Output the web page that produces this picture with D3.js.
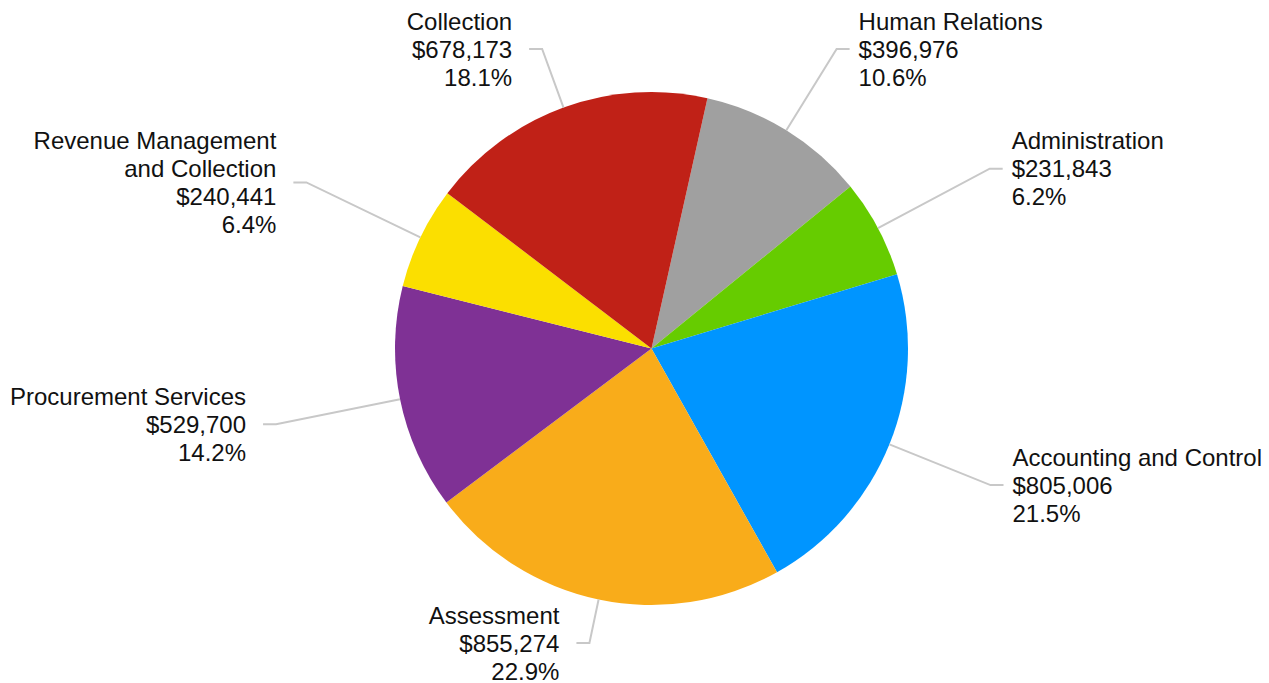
<!DOCTYPE html>
<html>
<head>
<meta charset="utf-8">
<script src="https://cdn.jsdelivr.net/npm/d3@7"></script>
<style>
  body { margin: 0; background: #fff; }
  text { font-family: "Liberation Sans", Arial, sans-serif; font-size: 24px; fill: #111; }
</style>
</head>
<body>
<div id="chart"></div>
<script>
// data, in clockwise order starting at Human Relations
var departments = ["Human Relations", "Administration", "Accounting and Control", "Assessment",
    "Procurement Services", "Revenue Management and Collection", "Collection"];
var budgets = [396976, 231843, 805006, 855274, 529700, 240441, 678173];
var sliceColors = ["#a0a0a0", "#66cc00", "#0095ff", "#f9ac1a", "#7f3195", "#fbdf00", "#c02117"];

var width = 1269, height = 683;
var cx = 651.5, cy = 348.5, radius = 256.5;
var labelRadius = 383;
var lineHeight = 28;
var maxLabelWidth = 270;
var edgeMargin = 7;

var svg = d3.select("#chart")
    .append("svg")
    .attr("width", width)
    .attr("height", height);

var total = d3.sum(budgets);
var startAngle = 12.6 * Math.PI / 180;

var pie = d3.pie()
    .sort(null)
    .startAngle(startAngle)
    .endAngle(startAngle + 2 * Math.PI);

var arc = d3.arc().innerRadius(0).outerRadius(radius);

var arcs = pie(budgets);

var panel = svg.append("g")
    .attr("transform", "translate(" + cx + "," + cy + ")");

panel.selectAll("path.slice")
    .data(arcs)
    .enter().append("path")
    .attr("class", "slice")
    .attr("d", arc)
    .style("fill", function (d, i) { return sliceColors[i]; });

var money = d3.format("$,");
var pct = d3.format(".1f");

// measure helper for wrapping
var measure = svg.append("text").attr("visibility", "hidden");
function textWidth(s) {
    measure.text(s);
    return measure.node().getComputedTextLength();
}

function wrap(words, maxW) {
    var lines = [], cur = "";
    words.forEach(function (w) {
        var test = cur ? cur + " " + w : w;
        if (cur && textWidth(test) > maxW) {
            lines.push(cur);
            cur = w;
        } else {
            cur = test;
        }
    });
    if (cur) lines.push(cur);
    return lines;
}

var labels = svg.append("g");

arcs.forEach(function (d, i) {
    var a = (d.startAngle + d.endAngle) / 2;
    var sx = Math.sin(a), sy = -Math.cos(a);
    var side = sx >= 0 ? 1 : -1;

    var nameLines = wrap(departments[i].split(" "), maxLabelWidth);
    var lines = nameLines.concat([money(budgets[i]), pct(budgets[i] / total * 100) + "%"]);
    var blockW = d3.max(lines, textWidth);
    var half = lines.length * lineHeight / 2;

    // natural anchor on the label circle, clamped to top/bottom
    var t = labelRadius;
    var ly = cy + t * sy;
    var clamped = Math.max(7 + half, Math.min(685 - half, ly));
    if (clamped !== ly) t = (clamped - cy) / sy;

    // pull inward along the radius if the text would run off the side
    var gapH = 13, gapT = side > 0 ? 9 : 17;
    var ex = cx + t * sx;
    var room = side > 0 ? (width - edgeMargin) - (ex + gapH + gapT + blockW)
                        : (ex - gapH - gapT - blockW) - edgeMargin;
    if (room < 0) t -= -room / Math.abs(sx);

    ex = cx + t * sx;
    ly = cy + t * sy;
    var hx = ex + side * gapH;
    var tx = hx + side * gapT;

    var px = cx + radius * sx, py = cy + radius * sy;

    labels.append("polyline")
        .attr("points", [[px, py], [ex, ly], [hx, ly]].map(function (p) { return p.join(","); }).join(" "))
        .attr("fill", "none")
        .attr("stroke", "#c8c8c8")
        .attr("stroke-width", 2);

    var txt = labels.append("text")
        .attr("text-anchor", side > 0 ? "start" : "end");
    lines.forEach(function (s, k) {
        txt.append("tspan")
            .attr("x", tx)
            .attr("y", ly + (k - (lines.length - 1) / 2) * lineHeight + 8.5)
            .text(s);
    });
});

measure.remove();
</script>
</body>
</html>
